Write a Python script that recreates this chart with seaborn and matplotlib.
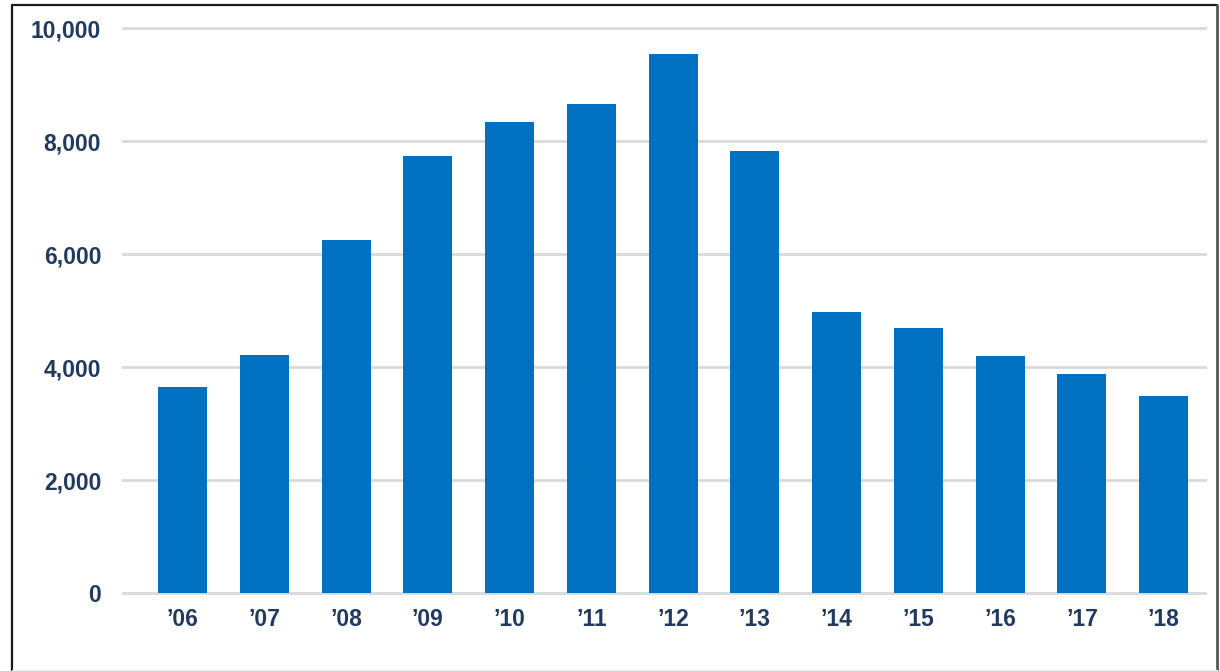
import matplotlib
matplotlib.use("Agg")
import matplotlib.pyplot as plt
import seaborn as sns
import pandas as pd
from matplotlib.lines import Line2D
from matplotlib.ticker import FuncFormatter
from matplotlib import font_manager as fm

years = ["\u201906", "\u201907", "\u201908", "\u201909", "\u201910", "\u201911", "\u201912",
         "\u201913", "\u201914", "\u201915", "\u201916", "\u201917", "\u201918"]
values = [3640, 4220, 6250, 7730, 8330, 8660, 9540, 7820, 4970, 4690, 4200, 3870, 3480]
yticks = [0, 2000, 4000, 6000, 8000, 10000]

sns.set_theme(style="white")
plt.rcParams['font.family'] = ['Liberation Sans', 'DejaVu Sans']

bold_file = None
for f in fm.findSystemFonts():
    if f.endswith("LiberationSans-Bold.ttf"):
        bold_file = f
        break
if bold_file:
    tick_fp = fm.FontProperties(fname=bold_file, size=16.5)
else:
    tick_fp = fm.FontProperties(family="Liberation Sans", weight="bold", size=16.5)

df = pd.DataFrame({"year": years, "value": values})

fig = plt.figure(figsize=(12.2, 6.71), dpi=100)
ax = fig.add_axes([122/1220, (671-601.5)/671, (1207-122)/1220, (601.5-16.7)/671])

sns.barplot(data=df, x="year", y="value", color="#0070C0", saturation=1, width=0.6,
            linewidth=0, ax=ax)

ax.set_ylim(-150, 10200)
ax.set_xlim(-0.74, 12.53)
ax.set_yticks(yticks)
ax.yaxis.set_major_formatter(FuncFormatter(lambda v, p: f"{int(v):,}"))
ax.set_axisbelow(True)
ax.yaxis.grid(True, color="#D9D9D9", linewidth=2)
ax.xaxis.grid(False)
for s in ax.spines.values():
    s.set_visible(False)
ax.set_xlabel("")
ax.set_ylabel("")
ax.tick_params(axis="both", length=0, labelcolor="#213A5E")
ax.tick_params(axis="y", pad=15)
ax.tick_params(axis="x", pad=5)
fig.canvas.draw()
for lbl in ax.get_xticklabels() + ax.get_yticklabels():
    lbl.set_fontproperties(tick_fp)

W, H = 1220, 671
border = dict(transform=fig.transFigure, color="#1a1a1a", linewidth=1.6)
fig.add_artist(Line2D([12.5/W, 12.5/W], [0, 1-5/H], **border))
fig.add_artist(Line2D([12.5/W, 1217/W], [1-5/H, 1-5/H], **border))
fig.add_artist(Line2D([1217/W, 1217/W], [0, 1-5/H], transform=fig.transFigure,
                      color="#555555", linewidth=2))
fig.add_artist(Line2D([12.5/W, 1217/W], [1/H, 1/H], transform=fig.transFigure,
                      color="#EEEEEE", linewidth=1))

fig.savefig("out.png", dpi=100)
